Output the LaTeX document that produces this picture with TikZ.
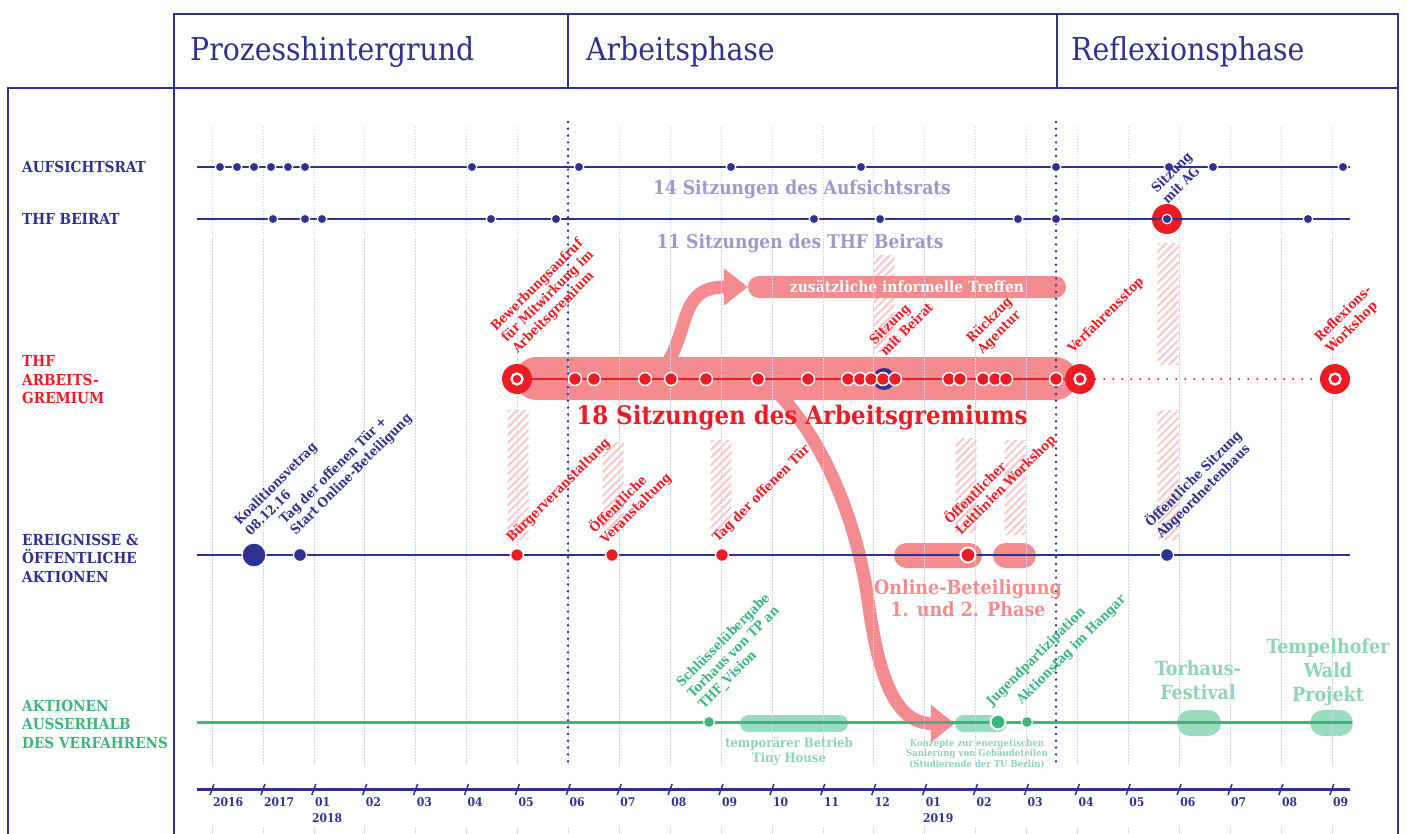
\documentclass[tikz,border=0pt]{standalone}
\usepackage{fontspec}
\setmainfont{DejaVu Serif Condensed}
\usetikzlibrary{
  arrows.meta,
  patterns.meta,
  positioning,
  shapes.misc,
}
\definecolor{navy}{HTML}{2E3192}
\definecolor{thfred}{HTML}{ED1C24}
\definecolor{rosa}{HTML}{F48B8E}
\definecolor{lila}{HTML}{9C9ACD}
\definecolor{gitter}{HTML}{D3D1EF}
\definecolor{gruen}{HTML}{3BB77C}
\definecolor{hellgruen}{HTML}{9ADCBF}
\definecolor{mint}{HTML}{8DD5B4}
\definecolor{schraffur}{HTML}{FAC6C8}
\newcommand{\schrift}[2]{\fontsize{#1}{#2}\selectfont}
\tikzset{
  rahmen/.style = {draw=navy, line width=2.2},
  phase title/.style = {anchor=base west, inner sep=0, text=navy, font=\schrift{31.5}{36}},
  row label/.style = {anchor=west, align=left, inner sep=0, font=\schrift{15.2}{18.5}\bfseries},
  count label/.style = {anchor=base, inner sep=0, text=lila, font=\schrift{19}{22}\bfseries},
  grid line/.style = {gitter, line width=0.6, dash pattern=on 1.5pt off 1.5pt},
  phase line/.style = {navy, line width=2.7, line cap=round, dash pattern=on 0pt off 6.8pt},
  row line/.style = {line width=2.5},
  hatch/.style = {
    chamfered rectangle,
    chamfered rectangle xsep=8,
    chamfered rectangle ysep=8,
    pattern={Lines[angle=45, distance=5.5pt, line width=2pt]},
    pattern color=schraffur,
    minimum width=21,
    inner sep=0
  },
  pinkbar/.style = {fill=rosa, rounded corners=12.5, minimum height=25, inner sep=0},
  greenbar/.style = {fill=hellgruen, rounded corners=8.5, minimum height=17, inner sep=0},
  bdot/.style = {circle, fill=navy, draw=white, line width=1.2, minimum size=9.5, inner sep=0},
  rdot/.style = {circle, fill=thfred, draw=white, line width=1.5, minimum size=13, inner sep=0},
  gdot/.style = {circle, fill=gruen, draw=white, line width=1, minimum size=11, inner sep=0},
  big ring/.style = {
    circle, fill=thfred, minimum size=30, inner sep=0,
    path picture={\draw[white, line width=2.3] (path picture bounding box.center) circle (5.5pt);}
  },
  schraeg/.style = {rotate=45, anchor=south west, align=left, inner sep=0, font=\schrift{13.2}{15.5}\bfseries},
  mint text/.style = {align=center, inner sep=0, text=mint},
  pfeil/.style = {draw=rosa, line width=13, -{Triangle[length=24pt, width=36pt]}},
  axis label/.style = {anchor=base west, inner sep=0, text=navy, font=\schrift{12}{14}\bfseries},
}

\begin{document}
\begin{tikzpicture}[x=1pt, y=-1pt]
  \useasboundingbox (0,0) rectangle (1407,834);
  %% frame and phases
  \draw[rahmen] (174,834) -- (174,14) -- (1398,14) -- (1398,834);
  \draw[rahmen] (8,834) -- (8,88) -- (1398,88);
  \draw[rahmen] (568,14) -- (568,88);
  \draw[rahmen] (1057,14) -- (1057,88);
  \node[phase title] (p-hinter) at (190,61) {Prozesshintergrund};
  \node[phase title] (p-arbeit) at (586,61) {Arbeitsphase};
  \node[phase title] (p-reflex) at (1071,61) {Reflexionsphase};
  %% row labels
  \node[row label, text=navy] (l-ar) at (22,167) {AUFSICHTSRAT};
  \node[row label, text=navy] (l-beirat) at (22,219) {THF BEIRAT};
  \node[row label, text=thfred] (l-ag) at (22,380) {THF\\ARBEITS-\\GREMIUM};
  \node[row label, text=navy] (l-er) at (22,558) {EREIGNISSE \&\\ÖFFENTLICHE\\AKTIONEN};
  \node[row label, text=gruen] (l-ak) at (22,724) {AKTIONEN\\AUSSERHALB\\DES VERFAHRENS};
  %% hatched periods
  \node[hatch, minimum height=130] (h-bew) at (518,475) {};
  \node[hatch, minimum height=88] (h-oev) at (613,486) {};
  \node[hatch, minimum height=90] (h-tag) at (721,485) {};
  \node[hatch, minimum height=97] (h-beirat) at (884,303.5) {};
  \node[hatch, minimum height=95] (h-leit) at (966,485.5) {};
  \node[hatch, minimum height=95] (h-work) at (1015,487.5) {};
  \node[hatch, minimum height=122] (h-ag-o) at (1168,304) {};
  \node[hatch, minimum height=130] (h-ag-u) at (1168,475) {};
  %% curving arrows
  \coordinate (a1-start) at (668,362);
  \coordinate (a2-start) at (780,395);
  \node[pinkbar, minimum width=318, minimum height=22, rounded corners=11,
        text=white, font=\schrift{15.5}{17}\bfseries] (treffen) at (907,287) {zusätzliche informelle Treffen};
  \node[greenbar, minimum width=52] (energ) at (981,723.5) {};
  \draw[pfeil] (a1-start) .. controls (690,325) and (680,287) .. (treffen.west);
  \draw[pfeil] (a2-start) .. controls (830,450) and (858,530) .. (868,600)
    .. controls (880,690) and (900,723.5) .. (energ.west);
  %% bars
  \node[pinkbar, minimum width=562, minimum height=43, rounded corners=21.5] (ag-bar) at (796,378.5) {};
  \node[pinkbar, minimum width=88] (online1) at (938,555.5) {};
  \node[pinkbar, minimum width=43] (online2) at (1014.5,555.5) {};
  \node[greenbar, minimum width=108] (tiny) at (794,723.5) {};
  \node[greenbar, minimum width=44, minimum height=26, rounded corners=13] (torhaus) at (1199,723) {};
  \node[greenbar, minimum width=43, minimum height=26, rounded corners=13] (wald) at (1331.5,723) {};
  %% grid
  \foreach \i in {0,...,22} {
    \draw[grid line] ({212+50.9*\i},127) -- ({212+50.9*\i},765);
    \draw[grid line] ({212+50.9*\i},827) -- ({212+50.9*\i},834);
  }
  \draw[phase line] (568,122) -- (568,765);
  \draw[phase line] (1056,122) -- (1056,765);
  %% rings behind lines
  \node[circle, fill=thfred, minimum size=30, inner sep=0] (beirat-ag) at (1167,219) {};
  \node[circle, fill=navy, minimum size=22, inner sep=0] (ag-beirat) at (884,379) {};
  %% row lines
  \coordinate (ar-a) at (197,167);   \coordinate (ar-b) at (1350,167);
  \coordinate (be-a) at (197,219);   \coordinate (be-b) at (1350,219);
  \coordinate (er-a) at (197,555);   \coordinate (er-b) at (1350,555);
  \coordinate (ak-a) at (197,722);   \coordinate (ak-b) at (1352,722);
  \draw[row line, navy] (ar-a) -- (ar-b);
  \draw[row line, navy] (be-a) -- (be-b);
  \draw[row line, navy] (er-a) -- (er-b);
  \draw[row line, gruen, line width=3] (ak-a) -- (ak-b);
  \node[big ring] (ag-aufruf) at (517,379) {};
  \node[big ring] (ag-stop) at (1080,379) {};
  \node[big ring] (ag-refl) at (1335,379) {};
  \draw[row line, thfred] (ag-aufruf) -- (ag-stop);
  \draw[thfred, line width=2.4, line cap=round, dash pattern=on 0pt off 9pt]
    (ag-stop.east) -- (ag-refl.west);
  %% meetings
  \foreach \x [count=\i] in {220,237,254,271,288,305,472,579,731,861,1056,1169,1213,1343}
    \node[bdot] (ar-\i) at (\x,167) {};
  \foreach \x [count=\i] in {273,305,322,491,556,814,880,1018,1056,1167,1308}
    \node[bdot] (be-\i) at (\x,219) {};
  \foreach \x [count=\i] in {575,594,645,671,706,758,808,848,860,871,883,895,949,960,983,995,1006,1056}
    \node[rdot] (ag-\i) at (\x,379) {};
  %% events
  \node[circle, fill=navy, draw=white, line width=1.2, minimum size=24, inner sep=0] (er-koal) at (254,555) {};
  \node[circle, fill=navy, draw=white, line width=1.2, minimum size=13, inner sep=0] (er-tag) at (300,555) {};
  \node[rdot] (er-buerger) at (517,555) {};
  \node[rdot] (er-oev) at (612,555) {};
  \node[rdot] (er-tuer) at (722,555) {};
  \node[rdot, line width=2, minimum size=15] (er-leit) at (968,555) {};
  \node[circle, fill=navy, draw=white, line width=1.2, minimum size=13, inner sep=0] (er-abg) at (1167,555) {};
  \node[gdot] (ak-schl) at (709,722) {};
  \node[gdot, line width=2, minimum size=15] (ak-energ) at (998,722) {};
  \node[gdot] (ak-jugend) at (1027,722) {};
  %% counts
  \node[count label] (n-ar) at (802,195) {14 Sitzungen des Aufsichtsrats};
  \node[count label] (n-be) at (800,248) {11 Sitzungen des THF Beirats};
  \node[anchor=base, inner sep=0, text=thfred, font=\schrift{25.5}{30}\bfseries] (n-ag) at (802,424) {18 Sitzungen des Arbeitsgremiums};
  \node[align=center, inner sep=0, text=rosa, font=\schrift{19.5}{22.5}\bfseries] (n-online) at (968,598) {Online-Beteiligung\\1. und 2. Phase};
  %% slanted labels
  \node[schraeg, text=navy] (s-ag) at (1168,205) {Sitzung\\mit AG};
  \node[schraeg, text=thfred] (s-bew) at (520,356) {Bewerbungsaufruf\\für Mitwirkung im\\Arbeitsgremium};
  \node[schraeg, text=thfred] (s-beirat) at (886,357) {Sitzung\\mit Beirat};
  \node[schraeg, text=thfred] (s-rueck) at (985,357) {Rückzug\\Agentur};
  \node[schraeg, text=thfred] (s-stop) at (1075,356) {Verfahrensstop};
  \node[schraeg, text=thfred] (s-refl) at (1333,356) {Reflexions-\\Workshop};
  \node[schraeg, text=navy] (s-koal) at (251,537) {Koalitionsvetrag\\08.12.16};
  \node[schraeg, text=navy] (s-tag) at (298,538) {Tag der offenen Tür +\\Start Online-Beteiligung};
  \node[schraeg, text=thfred] (s-buerger) at (514,545) {Bürgerveranstaltung};
  \node[schraeg, text=thfred] (s-oev) at (608,547) {Öffentliche\\Veranstaltung};
  \node[schraeg, text=thfred] (s-tuer) at (720,545) {Tag der offenen Tür};
  \node[schraeg, text=thfred] (s-leit) at (963,538) {Öffentlicher\\Leitlinien Workshop};
  \node[schraeg, text=navy] (s-abg) at (1164,541) {Öffentliche Sitzung\\Abgeordnetenhaus};
  \node[schraeg, text=gruen] (s-schl) at (706,712) {Schlüsselübergabe\\Torhaus von TP an\\THF\_Vision};
  \node[schraeg, text=gruen] (s-jugend) at (994,709) {Jugendpartizipation};
  \node[schraeg, text=gruen] (s-aktion) at (1024,707) {Aktionstag im Hangar};
  %% outside actions
  \node[mint text, font=\schrift{13}{15}\bfseries] (t-tiny) at (789,751) {temporärer Betrieb\\Tiny House};
  \node[mint text, font=\schrift{9.5}{10.5}\bfseries] (t-energ) at (977,754) {Konzepte zur energetischen\\Sanierung von Gebäudeteilen\\(Studierende der TU Berlin)};
  \node[mint text, font=\schrift{19.5}{24}\bfseries] (t-torhaus) at (1198,680) {Torhaus-\\Festival};
  \node[mint text, font=\schrift{19.5}{24}\bfseries] (t-wald) at (1328,672) {Tempelhofer\\Wald\\Projekt};
  %% time axis
  \coordinate (ax-a) at (197,789);
  \coordinate (ax-b) at (1350,789);
  \draw[navy, line width=3] (ax-a) -- (ax-b);
  \foreach \m [count=\i from 0] in {2016,2017,01,02,03,04,05,06,07,08,09,10,11,12,01,02,03,04,05,06,07,08,09} {
    \draw[navy, line width=1.5] ({210+50.9*\i},795) -- ({214+50.9*\i},784);
    \node[axis label] (m-\i) at ({213+50.9*\i},806) {\m};
  }
  \node[axis label] (y-2018) at (312,822) {2018};
  \node[axis label] (y-2019) at (923,822) {2019};
\end{tikzpicture}
\end{document}
